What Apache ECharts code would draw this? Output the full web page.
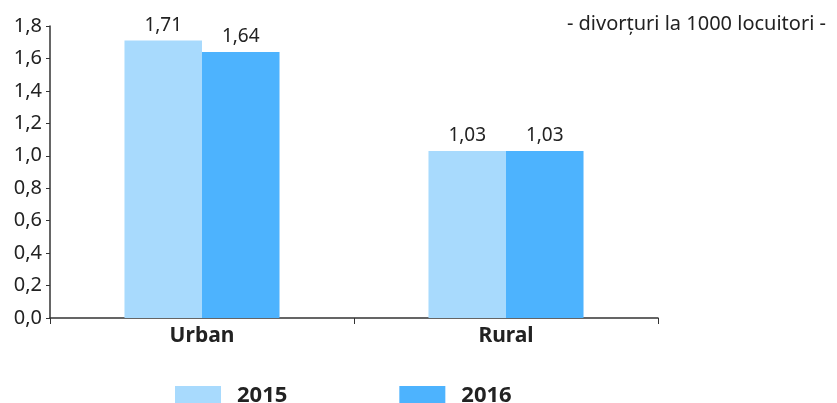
<!DOCTYPE html>
<html>
<head>
<meta charset="utf-8">
<script src="https://cdn.jsdelivr.net/npm/echarts@6/dist/echarts.min.js"></script>
<style>
  html, body { margin: 0; padding: 0; background: #fff; }
  #chart { width: 837px; height: 403px; }
</style>
</head>
<body>
<div id="chart"></div>
<script>
// categorii si valori (divorturi la 1000 locuitori)
var categories = ['Urban', 'Rural']
var years = ['2015', '2016']
var values2015 = [1.71, 1.03]
var values2016 = [1.64, 1.03]
var yTicks = [0, 0.2, 0.4, 0.6, 0.8, 1.0, 1.2, 1.4, 1.6, 1.8]

var FONT = 'Noto Sans'
var chart = echarts.init(document.getElementById('chart'))

function comma (v, d) {
  return Number(v).toFixed(d).replace('.', ',')
}

var barLabel = {
  show: true,
  position: 'top',
  distance: 6,
  fontFamily: FONT,
  fontSize: 19,
  color: '#222',
  formatter: function (p) { return comma(p.value, 2) }
}

var option = {
  animation: false,
  textStyle: { fontFamily: FONT },
  title: {
    text: '- divorțuri la 1000 locuitori -',
    right: 6,
    top: 9,
    textStyle: { fontFamily: FONT, fontSize: 20, fontWeight: 'normal', color: '#222' }
  },
  legend: {
    data: years,
    left: 170,
    top: 380,
    itemWidth: 46,
    itemHeight: 20,
    itemGap: 112,
    icon: 'rect',
    textStyle: { fontFamily: FONT, fontSize: 22, fontWeight: 'bold', color: '#222', padding: [0, 0, 0, 11] }
  },
  grid: { left: 50, right: 179, top: 26, bottom: 85 },
  xAxis: {
    type: 'category',
    data: categories,
    axisLine: { lineStyle: { color: '#333', width: 1.5 } },
    axisTick: { show: true, length: 6, lineStyle: { color: '#333' } },
    axisLabel: { fontFamily: FONT, fontSize: 21, fontWeight: 'bold', color: '#222', margin: 8 }
  },
  yAxis: {
    type: 'value',
    min: 0,
    max: yTicks[yTicks.length - 1],
    interval: 0.2,
    splitLine: { show: false },
    axisLine: { show: true, lineStyle: { color: '#333', width: 1.5 } },
    axisTick: { show: true, length: 4, lineStyle: { color: '#333' } },
    axisLabel: {
      fontFamily: FONT,
      fontSize: 20,
      color: '#222',
      margin: 8,
      formatter: function (v) { return comma(v, 1) }
    }
  },
  series: [
    {
      name: years[0],
      type: 'bar',
      data: values2015,
      barGap: '0%',
      barCategoryGap: '49%',
      itemStyle: { color: '#A8DAFD' },
      label: barLabel
    },
    {
      name: years[1],
      type: 'bar',
      data: values2016,
      itemStyle: { color: '#4DB3FE' },
      label: barLabel
    }
  ]
}

chart.setOption(option)
</script>
</body>
</html>
